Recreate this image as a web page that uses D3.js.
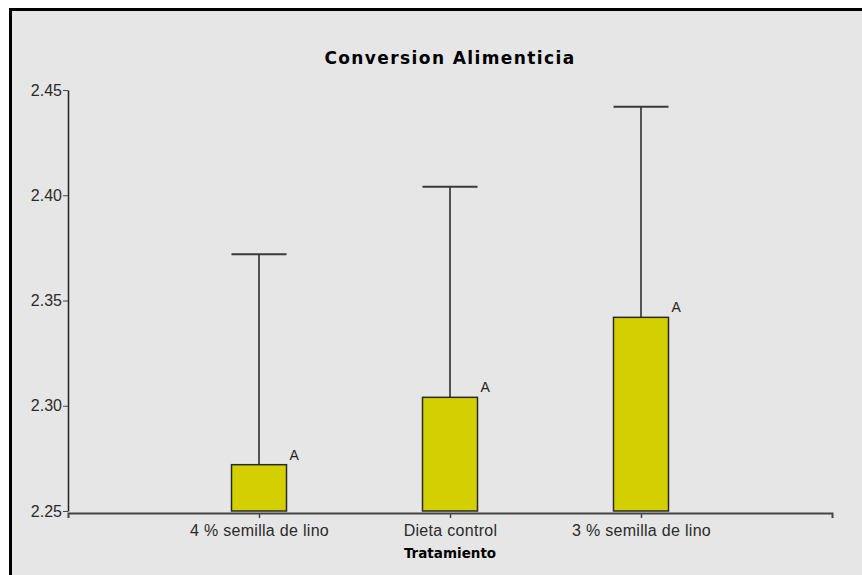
<!DOCTYPE html>
<html>
<head>
<meta charset="utf-8">
<script src="https://cdn.jsdelivr.net/npm/d3@7"></script>
<style>
  html, body { margin: 0; padding: 0; background: #ffffff; }
  svg { display: block; }
</style>
</head>
<body>
<svg id="chart" width="862" height="575"></svg>
<script>
// Feed conversion by treatment: mean with upper error bar and grouping letter
const categories = ["4 % semilla de lino", "Dieta control", "3 % semilla de lino"];
const means = [2.272, 2.304, 2.342];
const upperLimits = [2.372, 2.404, 2.442];
const groupLetters = ["A", "A", "A"];
const yTicks = [2.25, 2.30, 2.35, 2.40, 2.45];
const chartTitle = "Conversion Alimenticia";
const xTitle = "Tratamiento";

const svg = d3.select("#chart");
const W = 862, H = 575;

// panel background with heavy top/left frame
svg.append("rect").attr("x", 10).attr("y", 9).attr("width", W).attr("height", H)
  .attr("fill", "#e6e6e6");
svg.append("line").attr("x1", 9).attr("x2", W).attr("y1", 9.5).attr("y2", 9.5)
  .attr("stroke", "#000").attr("stroke-width", 3);
svg.append("line").attr("x1", 10.5).attr("x2", 10.5).attr("y1", 8).attr("y2", H)
  .attr("stroke", "#000").attr("stroke-width", 3);

const x = d3.scalePoint().domain(categories).range([68, 832]).padding(1);
const y = d3.scaleLinear().domain([2.25, 2.45]).range([511, 90]);
const barW = 55;
const labelFont = "'Liberation Sans', Arial, sans-serif";

// y axis
const yAxis = svg.append("g").attr("transform", "translate(68,0)")
  .call(d3.axisLeft(y).tickValues(yTicks).tickFormat(d3.format(".2f"))
    .tickSize(5).tickSizeOuter(0).tickPadding(1));
yAxis.select(".domain").attr("stroke", "#222").attr("stroke-width", 1.5);
yAxis.selectAll(".tick line").attr("stroke", "#444").attr("stroke-width", 1);
yAxis.selectAll(".tick text").attr("fill", "#2a2a2a")
  .style("font-family", labelFont).style("font-size", "16px");

// x axis
const xAxis = svg.append("g").attr("transform", "translate(0,513)")
  .call(d3.axisBottom(x).tickSize(5).tickSizeOuter(5).tickPadding(7));
xAxis.select(".domain").attr("stroke", "#444").attr("stroke-width", 2);
xAxis.selectAll(".tick line").attr("stroke", "#444").attr("stroke-width", 1.5);
xAxis.selectAll(".tick text").attr("fill", "#2a2a2a")
  .style("font-family", labelFont).style("font-size", "16px")
  .style("letter-spacing", "0.3px");

const rows = categories.map((c, i) => ({ cat: c, mean: means[i], hi: upperLimits[i], g: groupLetters[i] }));

// error bars
const eb = svg.append("g");
eb.selectAll("line.stem").data(rows).join("line").attr("class", "stem")
  .attr("x1", d => x(d.cat)).attr("x2", d => x(d.cat))
  .attr("y1", d => y(d.mean)).attr("y2", d => y(d.hi))
  .attr("stroke", "#222").attr("stroke-width", 1.5);
eb.selectAll("line.cap").data(rows).join("line").attr("class", "cap")
  .attr("x1", d => x(d.cat) - barW / 2).attr("x2", d => x(d.cat) + barW / 2)
  .attr("y1", d => y(d.hi)).attr("y2", d => y(d.hi))
  .attr("stroke", "#3a3a3a").attr("stroke-width", 2);

// bars
svg.append("g").selectAll("rect").data(rows).join("rect")
  .attr("x", d => x(d.cat) - barW / 2).attr("width", barW)
  .attr("y", d => y(d.mean)).attr("height", d => y(2.25) - y(d.mean))
  .attr("fill", "#d3cf00").attr("stroke", "#2a2a2a").attr("stroke-width", 1.5);

// group letters
svg.append("g").selectAll("text").data(rows).join("text")
  .attr("x", d => x(d.cat) + barW / 2 + 3).attr("y", d => y(d.mean) - 5)
  .attr("fill", "#222")
  .style("font-family", labelFont).style("font-size", "14px")
  .text(d => d.g);

// titles
svg.append("text").attr("x", 450).attr("y", 64).attr("text-anchor", "middle")
  .attr("fill", "#000")
  .style("font-family", "'DejaVu Sans', sans-serif").style("font-weight", "bold")
  .style("font-size", "17px").style("letter-spacing", "1.4px")
  .text(chartTitle);
svg.append("text").attr("x", 450).attr("y", 558).attr("text-anchor", "middle")
  .attr("fill", "#000")
  .style("font-family", "'DejaVu Sans', sans-serif").style("font-weight", "bold")
  .style("font-size", "13.5px")
  .text(xTitle);
</script>
</body>
</html>
